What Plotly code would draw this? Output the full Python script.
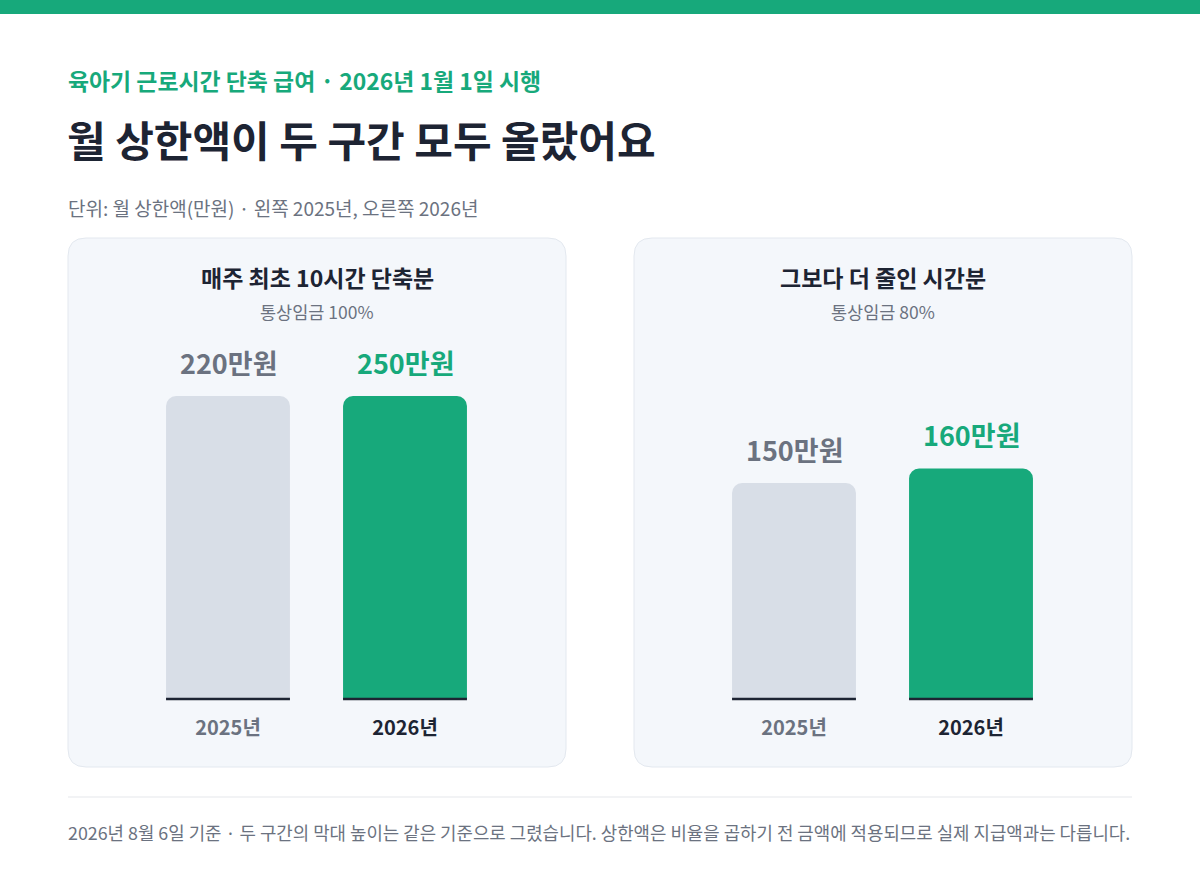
import plotly.graph_objects as go

# ---- data ----
years = ["2025년", "2026년"]
panel_titles = ["매주 최초 10시간 단축분", "그보다 더 줄인 시간분"]
panel_subtitles = ["통상임금 100%", "통상임금 80%"]
values_first10h = [220, 250]
values_further = [150, 160]

W, H = 1200, 894
FONT = "Noto Sans CJK KR"
GREEN = "#17a97b"
GRAY_BAR = "#d8dee7"
DARK = "#1d2433"
GRAY_TXT = "#6b7280"
PANEL_BG = "#f4f7fb"
PANEL_BORDER = "#e3e8ef"

# bar area height is capped (as in the reference, tall bars stop at the box top)
Y_MAX = 303 / 1.44

def px_x(p):
    return p / W

def px_y(p):
    return 1 - p / H

def rounded_rect(x0, y0, x1, y1, r):
    rx, ry = r / W, r / H
    X0, X1 = px_x(x0), px_x(x1)
    Y0, Y1 = px_y(y0), px_y(y1)
    return (f"M {X0+rx} {Y0} L {X1-rx} {Y0} Q {X1} {Y0} {X1} {Y0-ry} "
            f"L {X1} {Y1+ry} Q {X1} {Y1} {X1-rx} {Y1} "
            f"L {X0+rx} {Y1} Q {X0} {Y1} {X0} {Y1+ry} "
            f"L {X0} {Y0-ry} Q {X0} {Y0} {X0+rx} {Y0} Z")

fig = go.Figure()

BAR_W = 0.7
bar_colors = [GRAY_BAR, GREEN]
label_colors = [GRAY_TXT, GREEN]
tick_colors = [GRAY_TXT, DARK]

for i, vals in enumerate([values_first10h, values_further]):
    xa = "x" if i == 0 else "x2"
    ya = "y" if i == 0 else "y2"
    shown = [min(v, Y_MAX) for v in vals]
    fig.add_trace(go.Bar(
        x=years, y=shown, xaxis=xa, yaxis=ya,
        width=BAR_W,
        marker=dict(color=bar_colors, line=dict(width=0)),
        hoverinfo="skip",
        showlegend=False,
    ))
    for j, (yr_, v, s) in enumerate(zip(years, vals, shown)):
        fig.add_annotation(xref=xa, yref=ya, x=yr_, y=s, text=f"{v}만원",
                           showarrow=False, yanchor="middle", yshift=34,
                           font=dict(family=FONT, size=27, color=label_colors[j], weight=700))
        fig.add_shape(type="line", xref=xa, yref=f"{ya} domain",
                      x0=j - BAR_W / 2, x1=j + BAR_W / 2, y0=0, y1=0,
                      line=dict(color=DARK, width=2.5), layer="above")

ydom = [px_y(699), px_y(396)]
yr = [0, Y_MAX]
fig.update_layout(
    width=W, height=H,
    margin=dict(l=0, r=0, t=0, b=0),
    paper_bgcolor="white", plot_bgcolor="rgba(0,0,0,0)",
    barcornerradius=10,
    xaxis=dict(domain=[px_x(139.5), px_x(493.5)], range=[-0.5, 1.5]),
    xaxis2=dict(domain=[px_x(705.5), px_x(1059.5)], range=[-0.5, 1.5]),
    yaxis=dict(domain=ydom, range=yr, visible=False),
    yaxis2=dict(domain=ydom, range=yr, visible=False, anchor="x2"),
)
for ax in ["xaxis", "xaxis2"]:
    fig.layout[ax].update(
        type="category", showgrid=False, zeroline=False, showline=False,
        ticks="", tickmode="array", tickvals=years,
        ticktext=[f"<span style='color:{c}'>{y}</span>" for y, c in zip(years, tick_colors)],
        tickfont=dict(family=FONT, size=20, color=DARK, weight=700),
        ticklabelstandoff=15,
    )

fig.add_shape(type="rect", xref="paper", yref="paper", x0=0, x1=1, y0=px_y(14), y1=1,
              fillcolor=GREEN, line=dict(width=0), layer="below")
for x0 in [68, 634]:
    fig.add_shape(type="path", xref="paper", yref="paper",
                  path=rounded_rect(x0, 238, x0 + 498, 767, 18),
                  fillcolor=PANEL_BG, line=dict(color=PANEL_BORDER, width=1), layer="below")
fig.add_shape(type="line", xref="paper", yref="paper", x0=px_x(68), x1=px_x(1132),
              y0=px_y(797), y1=px_y(797), line=dict(color="#e5e7eb", width=1))

def text(x, y, s, size, color, weight=400, xanchor="left"):
    fig.add_annotation(xref="paper", yref="paper", x=px_x(x), y=px_y(y), text=s,
                       showarrow=False, xanchor=xanchor, yanchor="middle",
                       font=dict(family=FONT, size=size, color=color, weight=weight))

text(66, 80, "육아기 근로시간 단축 급여 · 2026년 1월 1일 시행", 22.9, GREEN, 700)
text(65, 138, "월 상한액이 두 구간 모두 올랐어요", 42, DARK, 700)
text(66, 208, "단위: 월 상한액(만원) · 왼쪽 2025년, 오른쪽 2026년", 19, GRAY_TXT, 400)
for cx, t, s in zip([317, 883], panel_titles, panel_subtitles):
    text(cx, 277, t, 23, DARK, 700, xanchor="center")
    text(cx, 312, s, 17.5, GRAY_TXT, 400, xanchor="center")
text(66, 832, "2026년 8월 6일 기준 · 두 구간의 막대 높이는 같은 기준으로 그렸습니다. 상한액은 비율을 곱하기 전 금액에 적용되므로 실제 지급액과는 다릅니다.",
     17.85, GRAY_TXT, 400)

fig.write_html("out.html", config={"displayModeBar": False},
               post_script="document.body.style.margin='0';document.body.style.overflow='hidden';")
